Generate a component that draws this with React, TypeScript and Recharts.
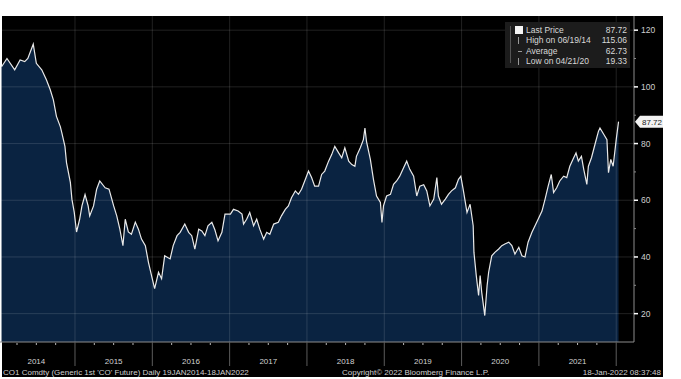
import React from 'react';
import { ComposedChart, Area, XAxis, YAxis, ReferenceLine } from 'recharts';

// decimal year of each sample
const times = [
  2014.05, 2014.12, 2014.22, 2014.29, 2014.35, 2014.39, 2014.46, 2014.5, 2014.57, 2014.63, 2014.68, 2014.72, 2014.76, 2014.81, 2014.83, 2014.87, 2014.89, 2014.94, 2014.96, 2014.99,
  2015.02, 2015.06, 2015.09, 2015.13, 2015.17, 2015.19, 2015.24, 2015.28, 2015.32, 2015.39, 2015.44, 2015.5, 2015.54, 2015.58, 2015.62, 2015.65, 2015.69, 2015.73, 2015.78, 2015.82, 2015.86, 2015.91, 2015.95, 2015.99,
  2016.03, 2016.08, 2016.12, 2016.16, 2016.23, 2016.27, 2016.32, 2016.36, 2016.42, 2016.47, 2016.51, 2016.55, 2016.6, 2016.64, 2016.68, 2016.72, 2016.77, 2016.81, 2016.85, 2016.9, 2016.94,
  2017.01, 2017.05, 2017.11, 2017.16, 2017.18, 2017.22, 2017.26, 2017.31, 2017.35, 2017.39, 2017.44, 2017.48, 2017.52, 2017.57, 2017.63, 2017.67, 2017.72, 2017.76, 2017.8, 2017.85, 2017.89, 2017.93, 2017.98,
  2018.02, 2018.06, 2018.1, 2018.15, 2018.19, 2018.23, 2018.28, 2018.32, 2018.36, 2018.41, 2018.45, 2018.49, 2018.54, 2018.58, 2018.62, 2018.64, 2018.69, 2018.73, 2018.75, 2018.77, 2018.82, 2018.86, 2018.9, 2018.95, 2018.97, 2018.99,
  2019.03, 2019.08, 2019.12, 2019.16, 2019.2, 2019.25, 2019.29, 2019.33, 2019.38, 2019.42, 2019.46, 2019.51, 2019.55, 2019.59, 2019.64, 2019.68, 2019.7, 2019.74, 2019.79, 2019.83, 2019.87, 2019.92, 2019.96, 2019.99,
  2020.02, 2020.07, 2020.11, 2020.15, 2020.16, 2020.19, 2020.22, 2020.24, 2020.26, 2020.3, 2020.33, 2020.35, 2020.39, 2020.43, 2020.48, 2020.52, 2020.56, 2020.61, 2020.65, 2020.69, 2020.74, 2020.78, 2020.82, 2020.86, 2020.91, 2020.95, 2020.99,
  2021.04, 2021.08, 2021.12, 2021.16, 2021.19, 2021.23, 2021.27, 2021.32, 2021.36, 2021.4, 2021.45, 2021.48, 2021.51, 2021.55, 2021.58, 2021.62, 2021.64, 2021.68, 2021.73, 2021.77, 2021.79, 2021.84, 2021.88, 2021.9, 2021.93, 2021.96,
  2022.0, 2022.03,
];

const prices = [
  107.1, 110, 106, 109.5, 108.9, 110, 115.06, 108.3, 106, 102.5, 99, 95.4, 89.6, 86, 83.8, 79, 73.3, 66.3, 60.4, 55.8,
  48.8, 53.3, 58, 62, 58, 54.5, 58, 63.9, 66.8, 64.4, 63.9, 58, 54.5, 49.8, 44, 53.3, 48.8, 48, 52.3, 49.8, 46.3, 44, 38.1, 33.4,
  28.8, 34.6, 32.3, 40.4, 39.3, 44, 47.5, 48.7, 51.6, 48.7, 47.5, 42.8, 49.8, 49.2, 47.5, 51, 52.2, 49.5, 45.7, 48.7, 55.1,
  55.1, 56.8, 56.2, 55.1, 51.6, 53.3, 55.7, 51, 53.3, 49.8, 46.3, 48.7, 48, 51.6, 52.2, 54.5, 56.8, 58, 60.9, 63.3, 62.1, 63.9, 67.4,
  70.3, 68, 65, 65, 69.1, 70.3, 73.8, 76.1, 79, 76.7, 75, 78.5, 73.8, 72.6, 72, 75.5, 78.5, 81.4, 85.5, 80.8, 74.4, 67.4, 61.5, 59.2, 52.2, 58,
  61.5, 62.1, 65.6, 66.8, 68.5, 71.5, 73.8, 70.9, 68.5, 61.5, 65, 65.5, 63.3, 58, 60.4, 68, 61.5, 58.6, 60.4, 62.1, 63.3, 64.4, 67.4, 68.5,
  63.9, 55.7, 58.6, 51, 41.6, 33.4, 26.4, 33.4, 27.6, 19.33, 29.9, 34.6, 40.4, 41.6, 42.8, 44, 44.6, 45.2, 44, 41, 43.4, 40.4, 40, 45.2, 48.7, 51, 53.3,
  56.2, 60.4, 65, 69.1, 62.7, 64.4, 66.8, 68.5, 68, 72, 75, 76.7, 73.8, 75.5, 70.9, 65.6, 72, 75, 80.2, 84.3, 85.5, 83.2, 81.4, 69.7, 74.4, 72,
  81.4, 87.72,
];

const yearLabels = ['2014', '2015', '2016', '2017', '2018', '2019', '2020', '2021'];
const yearBounds = [2014, 2015, 2016, 2017, 2018, 2019, 2020, 2021, 2022];
const majorTicks = [20, 40, 60, 80, 100, 120];
const minorTicks = [30, 50, 70, 90, 110];

const lastPrice = 87.72;
const legendLabels = ['Last Price', 'High on 06/19/14', 'Average', 'Low on 04/21/20'];
const legendValues = ['87.72', '115.06', '62.73', '19.33'];

const X_DOMAIN: [number, number] = [2014.03, 2022.23];
const FONT = '"Liberation Sans", Arial, sans-serif';

const data = times.map((t, i) => ({ t, price: prices[i] }));

const quarterTicks = yearBounds
  .flatMap((y) => [y, y + 0.25, y + 0.5, y + 0.75])
  .filter((v) => v >= X_DOMAIN[0] && v <= X_DOMAIN[1]);

const yTicks = [...majorTicks, ...minorTicks, lastPrice].sort((a, b) => a - b);

const XTick = (props: any) => {
  const { x, y, payload } = props;
  const v = payload.value;
  const frac = Math.round((v - Math.floor(v)) * 100) / 100;
  if (frac === 0) {
    return <line x1={x} x2={x} y1={y} y2={y + 24} stroke="#5c5c5c" />;
  }
  return (
    <g>
      <line x1={x} x2={x} y1={y + 1} y2={y + 3} stroke="#b8b8b8" />
      {frac === 0.5 && (
        <text x={x} y={y + 22} textAnchor="middle" fill="#d2d2d2" fontSize={8} fontFamily={FONT}>
          {yearLabels[Math.floor(v) - 2014]}
        </text>
      )}
    </g>
  );
};

const YTick = (props: any) => {
  const { x, y, payload } = props;
  const v = payload.value;
  if (v === lastPrice) {
    return (
      <g>
        <polygon
          points={`${x + 1},${y} ${x + 6},${y - 6} ${x + 29},${y - 6} ${x + 29},${y + 6} ${x + 6},${y + 6}`}
          fill="#f2f2f2"
        />
        <text x={x + 8} y={y + 3} fill="#1a1a1a" fontSize={8} fontFamily={FONT}>
          {v.toFixed(2)}
        </text>
      </g>
    );
  }
  if (v % 20 === 0) {
    return (
      <g>
        <line x1={x} x2={x + 4} y1={y} y2={y} stroke="#ffffff" strokeWidth={1.5} />
        <text x={x + 7} y={y + 3} fill="#cfcfcf" fontSize={8.5} fontFamily={FONT}>
          {v}
        </text>
      </g>
    );
  }
  return <line x1={x} x2={x + 2} y1={y} y2={y} stroke="#8a8a8a" />;
};

const LegendBox = () => (
  <div
    style={{
      position: 'absolute',
      left: 505,
      top: 22,
      background: '#1c1c1c',
      width: 125,
      height: 46,
      fontFamily: FONT,
      fontSize: 8.5,
      color: '#d8d8d8',
    }}
  >
    <div style={{ position: 'absolute', left: 5, top: 4, width: 1, height: 37, background: '#555' }} />
    {legendLabels.map((label, i) => (
      <div key={label} style={{ position: 'absolute', left: 0, top: 3 + i * 10.4, width: 125, height: 10, lineHeight: '10px' }}>
        {i === 0 ? (
          <div style={{ position: 'absolute', left: 10, top: 1, width: 8, height: 8, background: '#f5f5f5' }} />
        ) : (
          <div style={{ position: 'absolute', left: 13, top: i === 2 ? 5 : 2, width: i === 2 ? 4 : 1, height: i === 2 ? 1 : 7, background: '#999' }} />
        )}
        <span style={{ position: 'absolute', left: 21 }}>{label}</span>
        <span style={{ position: 'absolute', right: 3 }}>{legendValues[i]}</span>
      </div>
    ))}
  </div>
);

const footerStyle: React.CSSProperties = {
  position: 'absolute',
  top: 368,
  fontFamily: FONT,
  fontSize: 8,
  color: '#cfcfcf',
  whiteSpace: 'nowrap',
  lineHeight: '9px',
};

export default function App() {
  return (
    <div style={{ position: 'absolute', left: 0, top: 0, width: 681, height: 379, background: '#ffffff', overflow: 'hidden' }}>
      <div style={{ position: 'absolute', left: 2, top: 16, width: 661, height: 361, background: '#000000' }} />
      <div style={{ position: 'absolute', left: 0, top: 0 }}>
        <ComposedChart width={681} height={379} data={data} margin={{ top: 16, right: 0, bottom: 0, left: 0 }}>
          <XAxis
            dataKey="t"
            type="number"
            domain={X_DOMAIN}
            allowDataOverflow
            ticks={quarterTicks}
            interval={0}
            tick={<XTick />}
            tickLine={false}
            tickSize={0}
            tickMargin={0}
            height={37}
            axisLine={{ stroke: '#8c8c8c' }}
          />
          <YAxis
            orientation="right"
            type="number"
            domain={[10, 125]}
            allowDataOverflow
            ticks={yTicks}
            interval={0}
            tick={<YTick />}
            tickLine={false}
            tickSize={0}
            tickMargin={0}
            width={47}
            axisLine={{ stroke: '#8c8c8c' }}
          />
          <Area
            type="linear"
            dataKey="price"
            stroke="#e9e9e9"
            strokeWidth={1.2}
            fill="#0a2341"
            fillOpacity={1}
            dot={false}
            activeDot={false}
            isAnimationActive={false}
          />
          {majorTicks.map((v) => (
            <ReferenceLine key={`h${v}`} y={v} stroke="rgba(255,255,255,0.13)" strokeWidth={1} />
          ))}
          {yearBounds.map((v) => (
            <ReferenceLine key={`v${v}`} x={v} stroke="rgba(255,255,255,0.13)" strokeWidth={1} />
          ))}
        </ComposedChart>
      </div>
      <LegendBox />
      <div style={{ ...footerStyle, left: 3 }}>CO1 Comdty (Generic 1st 'CO' Future)  Daily 19JAN2014-18JAN2022</div>
      <div style={{ ...footerStyle, left: 342 }}>Copyright© 2022 Bloomberg Finance L.P.</div>
      <div style={{ ...footerStyle, right: 20 }}>18-Jan-2022 08:37:48</div>
    </div>
  );
}
